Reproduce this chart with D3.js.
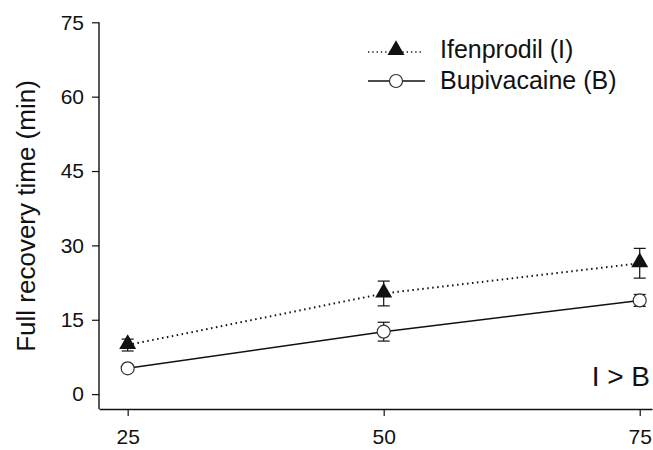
<!DOCTYPE html>
<html>
<head>
<meta charset="utf-8">
<script src="https://cdn.jsdelivr.net/npm/d3@7"></script>
<style>
  body { margin: 0; background: #fff; }
  text { font-family: "Liberation Sans", Arial, sans-serif; fill: #111; }
</style>
</head>
<body>
<script>
  const width = 653;
  const height = 450;

  const doses = [25, 50, 75];
  const ifenMean = [9.9, 20.3, 26.4];
  const ifenErr = [1.2, 2.5, 3.0];
  const bupiMean = [5.2, 12.6, 18.9];
  const bupiErr = [0.6, 1.9, 1.2];
  const yTicks = [0, 15, 30, 45, 60, 75];

  const x = d3.scaleLinear().domain([22.2, 76.2]).range([99, 652]);
  const y = d3.scaleLinear().domain([-3, 75]).range([409, 22.3]);

  const svg = d3.select("body").append("svg")
    .attr("width", width)
    .attr("height", height);

  // axes
  const yAxis = svg.append("g")
    .attr("transform", "translate(99,0)")
    .call(d3.axisLeft(y).tickValues(yTicks).tickSize(7).tickPadding(8).tickSizeOuter(0));
  yAxis.select(".domain").remove();
  yAxis.append("line").attr("x1", 0).attr("x2", 0).attr("y1", y(75)).attr("y2", 409)
    .attr("stroke", "#111").attr("stroke-width", 1.4);
  yAxis.selectAll("text").style("font-size", "21px").style("fill", "#111")
    .style("font-family", "Liberation Sans, Arial, sans-serif");
  yAxis.selectAll(".tick line").attr("stroke", "#111").attr("stroke-width", 1.2);

  const xAxis = svg.append("g")
    .attr("transform", "translate(0,409)")
    .call(d3.axisBottom(x).tickValues(doses).tickSize(7).tickPadding(13).tickSizeOuter(0));
  xAxis.select(".domain").attr("stroke", "#111").attr("stroke-width", 1.4);
  xAxis.selectAll("text").style("font-size", "21px").style("fill", "#111")
    .style("font-family", "Liberation Sans, Arial, sans-serif");
  xAxis.selectAll(".tick line").attr("stroke", "#111").attr("stroke-width", 1.2);

  svg.append("text")
    .attr("transform", "translate(35,216) rotate(-90)")
    .attr("text-anchor", "middle")
    .style("font-size", "26px")
    .text("Full recovery time (min)");

  const line = d3.line().x(d => x(d[0])).y(d => y(d[1]));
  const ifen = doses.map((d, i) => [d, ifenMean[i], ifenErr[i]]);
  const bupi = doses.map((d, i) => [d, bupiMean[i], bupiErr[i]]);

  function errorBars(data) {
    const g = svg.append("g").attr("stroke", "#111").attr("stroke-width", 1.2);
    data.forEach(d => {
      const cx = x(d[0]);
      g.append("line").attr("x1", cx).attr("x2", cx).attr("y1", y(d[1] - d[2])).attr("y2", y(d[1] + d[2]));
      g.append("line").attr("x1", cx - 6).attr("x2", cx + 6).attr("y1", y(d[1] + d[2])).attr("y2", y(d[1] + d[2]));
      g.append("line").attr("x1", cx - 6).attr("x2", cx + 6).attr("y1", y(d[1] - d[2])).attr("y2", y(d[1] - d[2]));
    });
  }

  errorBars(bupi);
  errorBars(ifen);

  svg.append("path").datum(bupi).attr("d", line)
    .attr("fill", "none").attr("stroke", "#111").attr("stroke-width", 1.5);
  svg.append("path").datum(ifen).attr("d", line)
    .attr("fill", "none").attr("stroke", "#111").attr("stroke-width", 2)
    .attr("stroke-dasharray", "1.5,3.5");

  const tri = d3.symbol().type(d3.symbolTriangle).size(125);

  svg.selectAll("circle.bupi").data(bupi).join("circle")
    .attr("class", "bupi")
    .attr("cx", d => x(d[0])).attr("cy", d => y(d[1])).attr("r", 6.5)
    .attr("fill", "#fff").attr("stroke", "#333").attr("stroke-width", 1.2);

  svg.selectAll("path.ifen").data(ifen).join("path")
    .attr("class", "ifen")
    .attr("d", tri)
    .attr("transform", d => `translate(${x(d[0])},${y(d[1]) - 1})`)
    .attr("fill", "#111");

  // legend
  const lg = svg.append("g");
  lg.append("line").attr("x1", 368).attr("x2", 423).attr("y1", 52).attr("y2", 52)
    .attr("stroke", "#111").attr("stroke-width", 1.6).attr("stroke-dasharray", "1.3,3");
  lg.append("path").attr("d", tri).attr("transform", "translate(396,50)").attr("fill", "#111");
  lg.append("text").attr("x", 440).attr("y", 58).style("font-size", "25px").text("Ifenprodil (I)");

  lg.append("line").attr("x1", 368).attr("x2", 425).attr("y1", 81).attr("y2", 81)
    .attr("stroke", "#111").attr("stroke-width", 1.5);
  lg.append("circle").attr("cx", 396).attr("cy", 81).attr("r", 6.5)
    .attr("fill", "#fff").attr("stroke", "#333").attr("stroke-width", 1.2);
  lg.append("text").attr("x", 440).attr("y", 89).style("font-size", "25px").text("Bupivacaine (B)");

  svg.append("text").attr("x", 650).attr("y", 386).attr("text-anchor", "end")
    .style("font-size", "28px").text("I > B");
</script>
</body>
</html>
